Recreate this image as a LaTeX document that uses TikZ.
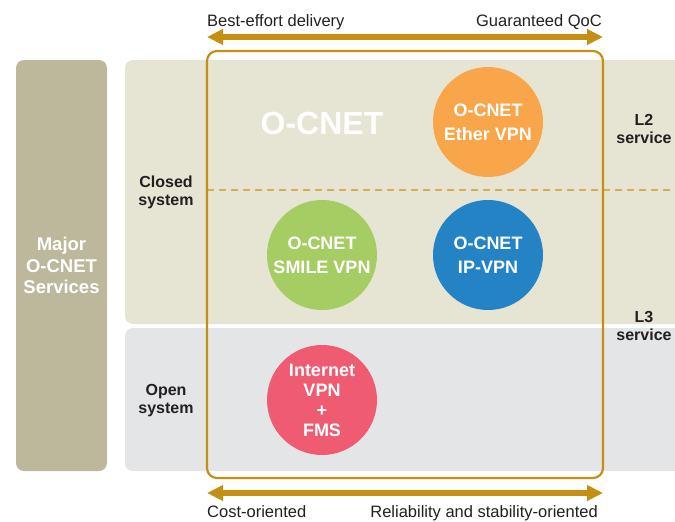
\documentclass[tikz,border=0pt]{standalone}
\usepackage{fontspec}
\setmainfont{Liberation Sans}
\usetikzlibrary{arrows.meta}
\definecolor{gold}{HTML}{C48F12}
\definecolor{dashgold}{HTML}{D6AF55}
\definecolor{ink}{HTML}{231F20}
\definecolor{majorfill}{HTML}{BDB89C}
\definecolor{closedfill}{HTML}{E6E4D3}
\definecolor{openfill}{HTML}{E4E5E6}
\definecolor{ethercol}{HTML}{F9A54A}
\definecolor{smilecol}{HTML}{A6CD63}
\definecolor{ipcol}{HTML}{2483C5}
\definecolor{netcol}{HTML}{EF5B71}
\begin{document}
\begin{tikzpicture}[x=1pt, y=-1pt, >={Triangle[length=16pt,width=15pt]},
    svc/.style={circle, minimum size=110pt, inner sep=0pt, text=white, align=center,
      font=\bfseries\fontsize{18}{24}\selectfont},
    lbl/.style={text=ink, align=center, font=\bfseries\fontsize{16}{18}\selectfont},
    axis/.style={text=ink, inner sep=0pt, font=\fontsize{16.5}{20}\selectfont}]
    \useasboundingbox (0,0) rectangle (675,522);
    \fill[closedfill, rounded corners=8pt] (125,60) rectangle (690,324);
    \fill[openfill, rounded corners=8pt] (125,328) rectangle (690,471);
    \draw[dashgold, line width=1.5pt, dash pattern=on 7pt off 5pt] (207,190) -- (675,190);
    \node[fill=majorfill, rounded corners=8pt, minimum width=91pt, minimum height=411pt,
      text=white, align=center, font=\bfseries\fontsize{18.5}{21.5}\selectfont] (major) at (61.5,265.5)
      {Major\\O-CNET\\Services};
    \node[lbl] (closed) at (166,192) {Closed\\system};
    \node[lbl] (open) at (166,401) {Open\\system};
    \node[lbl] (ltwo) at (644,129) {L2\\service};
    \node[lbl] (lthree) at (644,326) {L3\\service};
    \node[text=white, font=\bfseries\fontsize{32}{36}\selectfont] (ocnet) at (322,123) {O-CNET};
    \node[svc, fill=ethercol] (ether) at (488,122) {O-CNET\\Ether VPN};
    \node[svc, fill=smilecol] (smile) at (322,255) {O-CNET\\SMILE VPN};
    \node[svc, fill=ipcol] (ipvpn) at (488,255) {O-CNET\\IP-VPN};
    \node[svc, fill=netcol, font=\bfseries\fontsize{18}{20}\selectfont] (inet) at (322,400)
      {Internet\\VPN\\+\\FMS};
    \draw[gold, line width=2.2pt, rounded corners=10pt] (207,51) rectangle (603,478);
    \coordinate (tl) at (207,37);
    \coordinate (tr) at (603,37);
    \coordinate (bl) at (207,493);
    \coordinate (br) at (603,493);
    \draw[gold, line width=6pt, <->] (tl) -- (tr);
    \draw[gold, line width=6pt, <->] (bl) -- (br);
    \node[axis, anchor=base west] (best) at (207,27) {Best-effort delivery};
    \node[axis, anchor=base east] (qoc) at (602,27) {Guaranteed QoC};
    \node[axis, anchor=base west] (cost) at (207,517.5) {Cost-oriented};
    \node[axis, anchor=base east] (rel) at (598,517.5) {Reliability and stability-oriented};
\end{tikzpicture}
\end{document}
